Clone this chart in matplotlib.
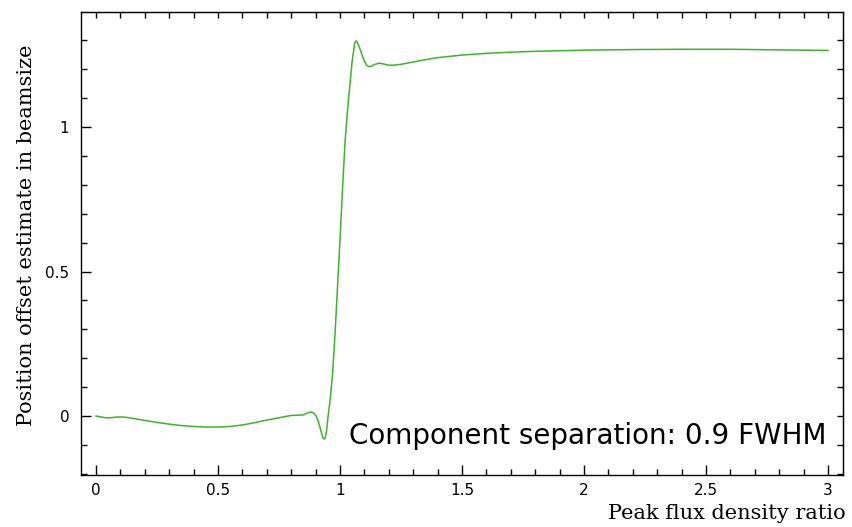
import matplotlib
matplotlib.use("Agg")
import matplotlib.pyplot as plt
from matplotlib.ticker import MultipleLocator, FuncFormatter, NullFormatter

# Data
ratio = [0.00, 0.02, 0.04, 0.06, 0.08, 0.10, 0.12, 0.15, 0.20, 0.25, 0.30, 0.35,
         0.40, 0.45, 0.50, 0.55, 0.60, 0.65, 0.70, 0.75, 0.78, 0.80, 0.83, 0.85,
         0.87, 0.88, 0.89, 0.90, 0.91, 0.92, 0.93, 0.935, 0.94, 0.945, 0.95, 0.96,
         0.97, 0.98, 0.99, 1.00, 1.01, 1.02, 1.03, 1.04, 1.05, 1.06, 1.065, 1.07,
         1.08, 1.09, 1.10, 1.11, 1.12, 1.13, 1.14, 1.16, 1.18, 1.20, 1.22, 1.25,
         1.30, 1.35, 1.40, 1.50, 1.60, 1.70, 1.80, 1.90, 2.00, 2.20, 2.40, 2.60,
         2.80, 3.00]
offset = [0.000, -0.003, -0.006, -0.006, -0.004, -0.003, -0.004, -0.008, -0.015,
          -0.022, -0.028, -0.033, -0.036, -0.038, -0.038, -0.036, -0.031, -0.023,
          -0.014, -0.006, -0.001, 0.002, 0.003, 0.004, 0.012, 0.014, 0.012, 0.003,
          -0.015, -0.045, -0.075, -0.080, -0.074, -0.050, -0.010, 0.060, 0.150,
          0.290, 0.450, 0.610, 0.780, 0.940, 1.050, 1.140, 1.230, 1.288, 1.298,
          1.295, 1.275, 1.250, 1.228, 1.213, 1.209, 1.211, 1.216, 1.221, 1.218,
          1.214, 1.214, 1.217, 1.225, 1.233, 1.240, 1.249, 1.255, 1.259, 1.262,
          1.264, 1.266, 1.268, 1.269, 1.269, 1.267, 1.265]

xlabel = "Peak flux density ratio"
ylabel = "Position offset estimate in beamsize"
note = "Component separation: 0.9 FWHM"

fig = plt.figure(figsize=(8.53, 5.27), dpi=100)
ax = fig.add_axes([81 / 853, 52 / 527, 762 / 853, 463 / 527])

ax.plot(ratio, offset, color="#3db42b", lw=1.1)

ax.set_xlim(-0.0615, 3.0615)
ax.set_ylim(-0.204, 1.398)

fmt = FuncFormatter(lambda v, p: "%g" % v)
for axis in (ax.xaxis, ax.yaxis):
    axis.set_major_locator(MultipleLocator(0.5))
    axis.set_minor_locator(MultipleLocator(0.1))
    axis.set_major_formatter(fmt)

ax.tick_params(which="both", direction="in", width=1.0, labelsize=11,
               top=False, right=False)
ax.tick_params(which="major", length=7)
ax.tick_params(which="minor", length=4)
ax.tick_params(axis="x", pad=6)
ax.tick_params(axis="y", pad=8.5)

for s in ax.spines.values():
    s.set_linewidth(1.0)

# top and right axes: uniform short ticks every 0.1
sx = ax.secondary_xaxis("top")
sx.xaxis.set_major_locator(MultipleLocator(0.1))
sx.xaxis.set_major_formatter(NullFormatter())
sx.tick_params(direction="in", length=4, width=1.0)
sy = ax.secondary_yaxis("right")
sy.yaxis.set_major_locator(MultipleLocator(0.1))
sy.yaxis.set_major_formatter(NullFormatter())
sy.tick_params(direction="in", length=4, width=1.0)

ax.set_xlabel(xlabel, family="DejaVu Serif", fontsize=15, ha="right", va="baseline")
ax.xaxis.set_label_coords(1.003, -0.095)
ax.set_ylabel(ylabel, family="DejaVu Serif", fontsize=15, va="center")
ax.yaxis.set_label_coords(-0.072, 0.518)

ax.text(0.9777, 0.068, note, transform=ax.transAxes, ha="right", va="baseline",
        fontsize=20, family="DejaVu Sans")

fig.savefig("out.png", dpi=100)
